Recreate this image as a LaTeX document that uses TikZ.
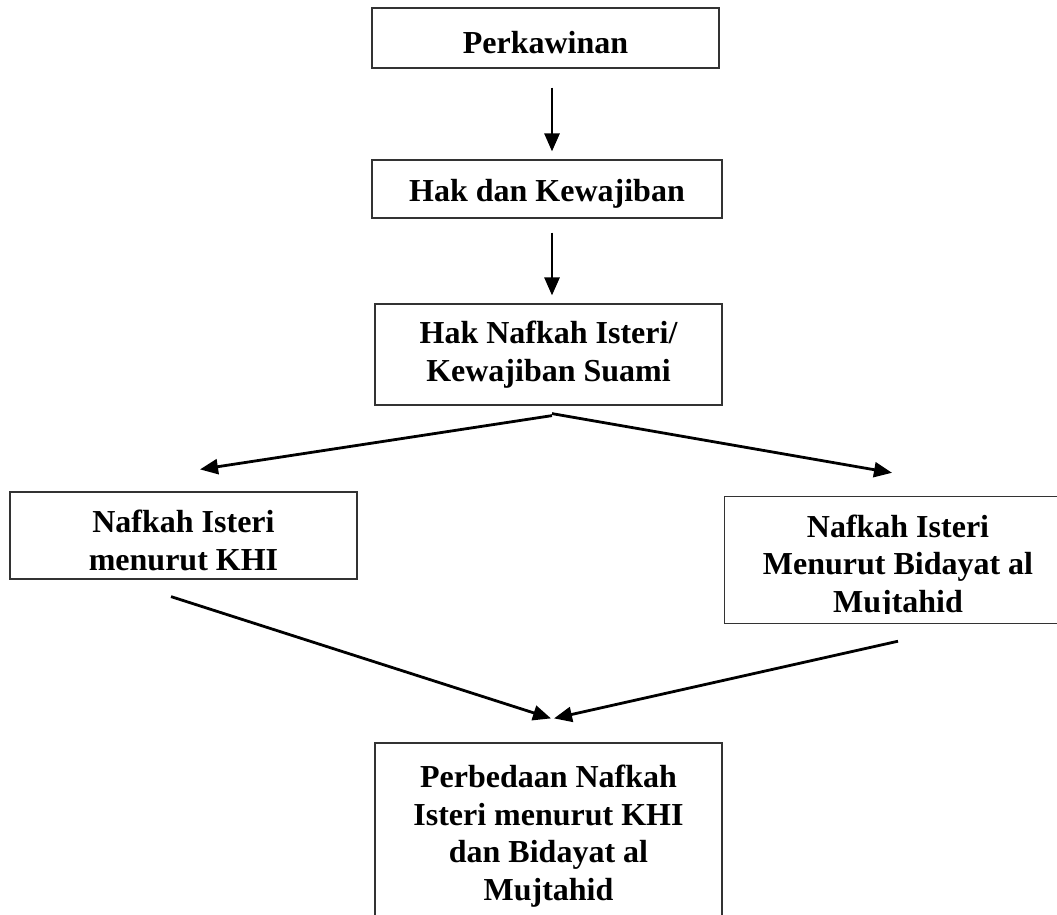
\documentclass[tikz,border=0pt]{standalone}
\usepackage{fontspec}
\setmainfont{Liberation Serif}
\usetikzlibrary{arrows.meta,calc}
\tikzset{
  boxtext/.style={align=center,inner sep=0pt,font=\fontsize{32}{37.5}\selectfont\bfseries},
  boxline/.style={draw=black!80,line width=1.2pt},
  box/.style={boxtext,boxline},
  arr/.style={line width=2.8pt,-{Triangle[length=18pt,width=15pt]}}
}
\newcommand{\lowerby}[1]{\rule{0pt}{#1}}
\begin{document}
\begin{tikzpicture}[x=1pt,y=-1pt]
\useasboundingbox[fill=white] (0,0) rectangle (1057,914);
\clip (0,0) rectangle (1057,914);
\node[box,minimum width=347pt,minimum height=60pt] (b1) at (545.5,38) {\lowerby{31pt}Perkawinan};
\node[box,minimum width=350pt,minimum height=58pt] (b2) at (547,189) {\lowerby{31pt}Hak dan Kewajiban};
\node[box,minimum width=347pt,minimum height=101pt] (b3) at (548.5,354.5) {Hak Nafkah Isteri/\\Kewajiban Suami};
\node[box,minimum width=347pt,minimum height=87pt] (b4) at (183.5,535.5) {\lowerby{32.5pt}Nafkah Isteri\\menurut KHI};
\begin{scope}
\clip (700,480) rectangle (1057,613);
\node[boxtext,minimum width=346pt,minimum height=126pt] (b5) at (898,560) {\lowerby{36pt}Nafkah Isteri\\Menurut Bidayat al\\Mujtahid};
\end{scope}
\draw[boxline] ([xshift=40pt]b5.north east) -- (b5.north west) -- (b5.south west) -- ([xshift=40pt]b5.south east);
\node[box,minimum width=347pt,minimum height=186pt] (b6) at (548.5,836) {Perbedaan Nafkah\\Isteri menurut KHI\\dan Bidayat al\\Mujtahid};
\draw[arr] ([shift={(6.5,19)}]b1.south) -- ([shift={(6.5,-8)}]b1.south |- b2.north);
\draw[arr] ([shift={(5,14)}]b2.south) -- ([shift={(3.5,-8)}]b3.north);
\draw[arr] ([shift={(3.5,10)}]b3.south) -- ([shift={(16.5,-22)}]b4.north);
\draw[arr] ([shift={(3.5,8)}]b3.south) -- ([shift={(-6,-24)}]b5.north);
\draw[arr] ([shift={(-12.5,17)}]b4.south) -- ([shift={(2.5,-24)}]b6.north);
\draw[arr] ([shift={(0,18)}]b5.south) -- ([shift={(5.5,-24)}]b6.north);
\end{tikzpicture}
\end{document}
